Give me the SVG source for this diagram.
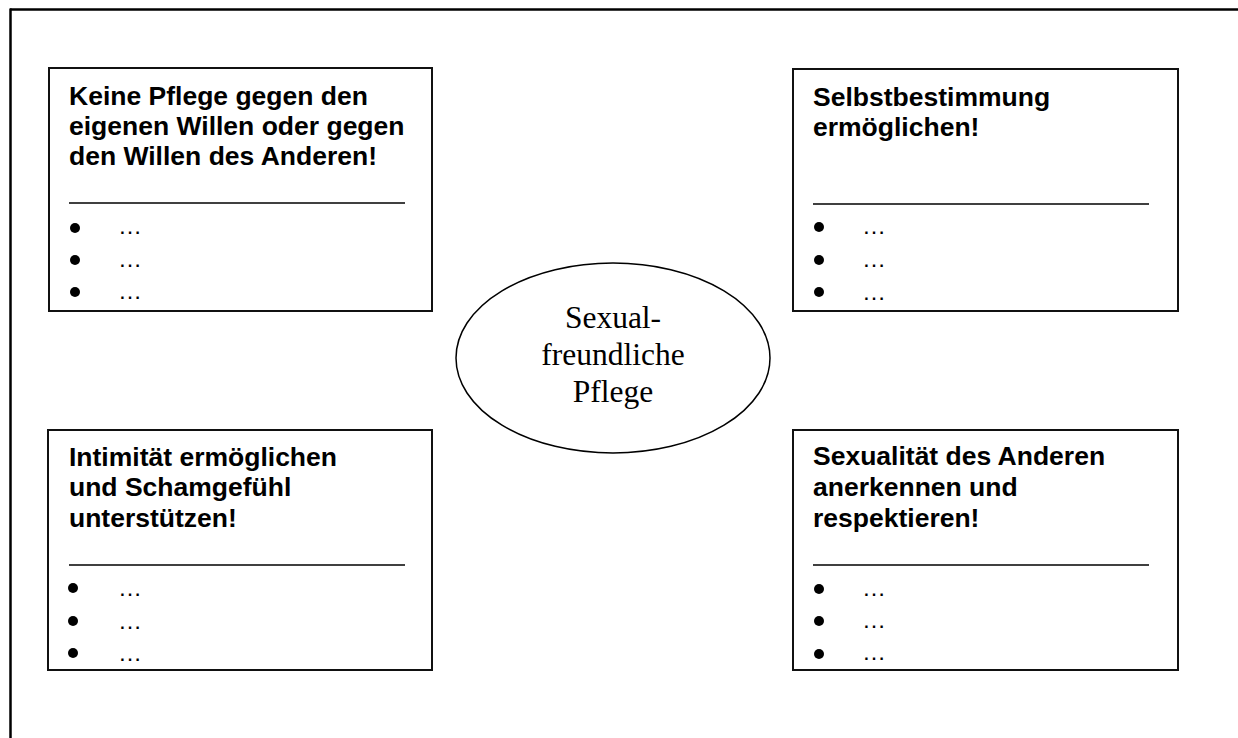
<svg xmlns="http://www.w3.org/2000/svg" width="1238" height="738" viewBox="0 0 1238 738">
<style>
.box{fill:#fff;stroke:#111;stroke-width:2}
.t{font-family:"Liberation Sans",Arial,sans-serif;font-weight:bold;font-size:26.5px;fill:#000}
.rule{stroke:#000;stroke-width:1.6}
.dot{fill:#000}
.el{font-family:"Liberation Sans",Arial,sans-serif;font-size:24px;fill:#000}
.c{font-family:"Liberation Serif","Times New Roman",serif;font-size:31.5px;fill:#000;text-anchor:middle}
</style>
<rect x="0" y="0" width="1238" height="738" fill="#fff"/>
<g id="frame">
<line x1="10" y1="9.5" x2="1238" y2="9.5" stroke="#000" stroke-width="2.5"/>
<line x1="10.5" y1="8.5" x2="10.5" y2="738" stroke="#000" stroke-width="2.5"/>
</g>
<g id="connectors"></g>
<g id="box-tl">
<rect class="box" x="49" y="68" width="383" height="243"/>
<text class="t" x="69" y="105">Keine Pflege gegen den</text>
<text class="t" x="69" y="135">eigenen Willen oder gegen</text>
<text class="t" x="69" y="165">den Willen des Anderen!</text>
<line class="rule" x1="69" y1="203" x2="405" y2="203"/>
<circle class="dot" cx="75" cy="228" r="5"/>
<circle class="dot" cx="75" cy="260" r="5"/>
<circle class="dot" cx="75" cy="292" r="5"/>
<text class="el" x="118" y="234">…</text>
<text class="el" x="118" y="267">…</text>
<text class="el" x="118" y="299">…</text>
</g>
<g id="box-tr">
<rect class="box" x="793" y="69" width="385" height="242"/>
<text class="t" x="813" y="106">Selbstbestimmung</text>
<text class="t" x="813" y="136">ermöglichen!</text>
<line class="rule" x1="813" y1="204" x2="1149" y2="204"/>
<circle class="dot" cx="819" cy="227" r="5"/>
<circle class="dot" cx="819" cy="260" r="5"/>
<circle class="dot" cx="819" cy="292" r="5"/>
<text class="el" x="862" y="234">…</text>
<text class="el" x="862" y="267">…</text>
<text class="el" x="862" y="300">…</text>
</g>
<g id="box-bl">
<rect class="box" x="48" y="430" width="384" height="240"/>
<text class="t" x="69" y="466">Intimität ermöglichen</text>
<text class="t" x="69" y="496">und Schamgefühl</text>
<text class="t" x="69" y="527">unterstützen!</text>
<line class="rule" x1="69" y1="565" x2="405" y2="565"/>
<circle class="dot" cx="73" cy="588" r="5"/>
<circle class="dot" cx="73" cy="621" r="5"/>
<circle class="dot" cx="73" cy="653" r="5"/>
<text class="el" x="118" y="596">…</text>
<text class="el" x="118" y="629">…</text>
<text class="el" x="118" y="661">…</text>
</g>
<g id="box-br">
<rect class="box" x="793" y="430" width="385" height="240"/>
<text class="t" x="813" y="465">Sexualität des Anderen</text>
<text class="t" x="813" y="496">anerkennen und</text>
<text class="t" x="813" y="527">respektieren!</text>
<line class="rule" x1="813" y1="565" x2="1149" y2="565"/>
<circle class="dot" cx="819" cy="589" r="5"/>
<circle class="dot" cx="819" cy="621" r="5"/>
<circle class="dot" cx="819" cy="654" r="5"/>
<text class="el" x="862" y="596">…</text>
<text class="el" x="862" y="628">…</text>
<text class="el" x="862" y="660">…</text>
</g>
<g id="center">
<ellipse cx="613" cy="358" rx="157" ry="95" fill="#fff" stroke="#000" stroke-width="1.5"/>
<text class="c" x="613" y="328">Sexual-</text>
<text class="c" x="613" y="365">freundliche</text>
<text class="c" x="613" y="402">Pflege</text>
</g>
</svg>
